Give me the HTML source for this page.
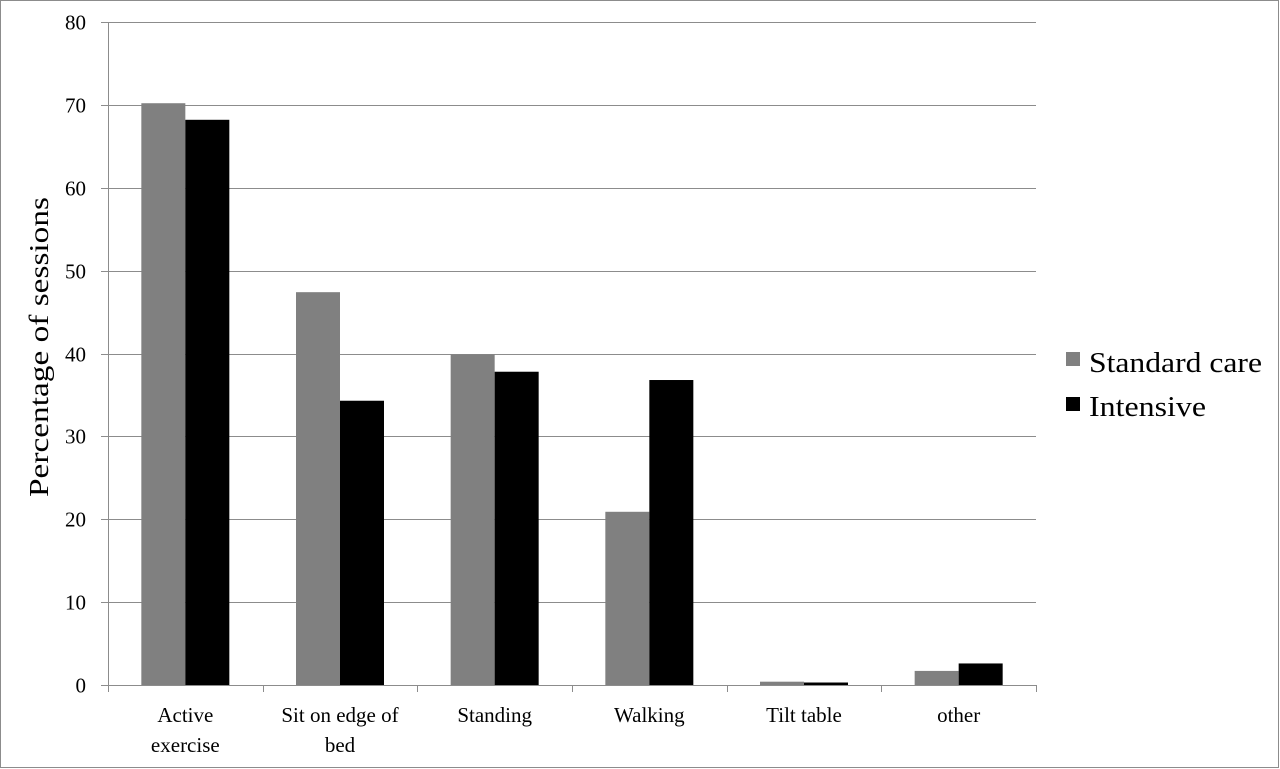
<!DOCTYPE html>
<html><head><meta charset="utf-8"><style>
html,body{margin:0;padding:0;background:#fff;}
svg{display:block;font-family:"Liberation Serif",serif;}
</style></head><body>
<svg id="chart" width="1280" height="769" viewBox="0 0 1280 769">
<rect x="0.5" y="0.5" width="1278" height="767" fill="#fff" stroke="#8c8c8c"/>
<g id="grid"></g>
<g id="bars"></g>
<g id="axes"></g>
<text x="48" y="347" font-size="27" text-anchor="middle" textLength="300" lengthAdjust="spacingAndGlyphs" transform="rotate(-90 48 347)">Percentage of sessions</text>
<g>
<g>
<rect x="1066" y="352" width="14" height="14" fill="#808080"/>
<text x="1089" y="372" font-size="29" textLength="173" lengthAdjust="spacingAndGlyphs">Standard care</text></g>
<g>
<rect x="1066" y="397" width="14" height="14" fill="#000"/>
<text x="1089" y="416" font-size="29" textLength="117" lengthAdjust="spacingAndGlyphs">Intensive</text></g>
</g>
</svg>
<script>
const categories = [["Active","exercise"],["Sit on edge of","bed"],["Standing"],["Walking"],["Tilt table"],["other"]];
const standardCare = [70.2, 47.4, 39.9, 20.9, 0.4, 1.7];
const intensive = [68.2, 34.3, 37.8, 36.8, 0.3, 2.6];
const yTicks = [0,10,20,30,40,50,60,70,80];

const NS="http://www.w3.org/2000/svg";
const plotLeft=108, plotRight=1036, plotTop=22, plotBottom=685, yMax=80;
const yScale = v => plotBottom - v/yMax*(plotBottom-plotTop);
const band=(plotRight-plotLeft)/categories.length;
const xc = i => plotLeft + band*(i+0.5);
function mk(tag, attrs, parent){const e=document.createElementNS(NS,tag);for(const k in attrs)e.setAttribute(k,attrs[k]);parent.appendChild(e);return e;}
const grid=document.getElementById('grid'), bars=document.getElementById('bars'), axes=document.getElementById('axes');
yTicks.forEach(t=>{
  const yy=Math.round(yScale(t))+0.5;
  if(t>0){const g=mk('line',{x1:plotLeft,x2:plotRight,y1:yy,y2:yy,stroke:'#8c8c8c','stroke-width':1},grid);
  
  }
  const tk=mk('line',{x1:plotLeft-7,x2:plotLeft,y1:yy,y2:yy,stroke:'#8c8c8c'},axes);
  
  
  const lb=mk('text',{x:86,y:yy+7,'font-size':21,'text-anchor':'end'},axes);
  lb.textContent=t;
  
  
});
const bw=44;
categories.forEach((c,i)=>{
  const cx=xc(i);
  const b1=mk('rect',{x:cx-bw,y:yScale(standardCare[i]),width:bw,height:plotBottom-yScale(standardCare[i]),fill:'#808080'},bars);
  
  
  const b2=mk('rect',{x:cx,y:yScale(intensive[i]),width:bw,height:plotBottom-yScale(intensive[i]),fill:'#000'},bars);
  
  
  const lb=mk('text',{x:cx,y:722,'font-size':21,'text-anchor':'middle'},axes);
  
  
  c.forEach((ln,j)=>{const ts=mk('tspan',{x:cx,dy:j?30:0},lb);ts.textContent=ln;});
});
for(let i=0;i<=categories.length;i++){
  const xx=Math.round(plotLeft+band*i)+0.5;
  const t=mk('line',{x1:xx,x2:xx,y1:plotBottom,y2:plotBottom+7,stroke:'#8c8c8c'},axes);
  
  
}
const ya=mk('line',{x1:plotLeft+0.5,x2:plotLeft+0.5,y1:plotTop,y2:plotBottom,stroke:'#8c8c8c'},axes);


const xa=mk('line',{x1:plotLeft,x2:plotRight,y1:plotBottom+0.5,y2:plotBottom+0.5,stroke:'#8c8c8c'},axes);


</script>
</body></html>
